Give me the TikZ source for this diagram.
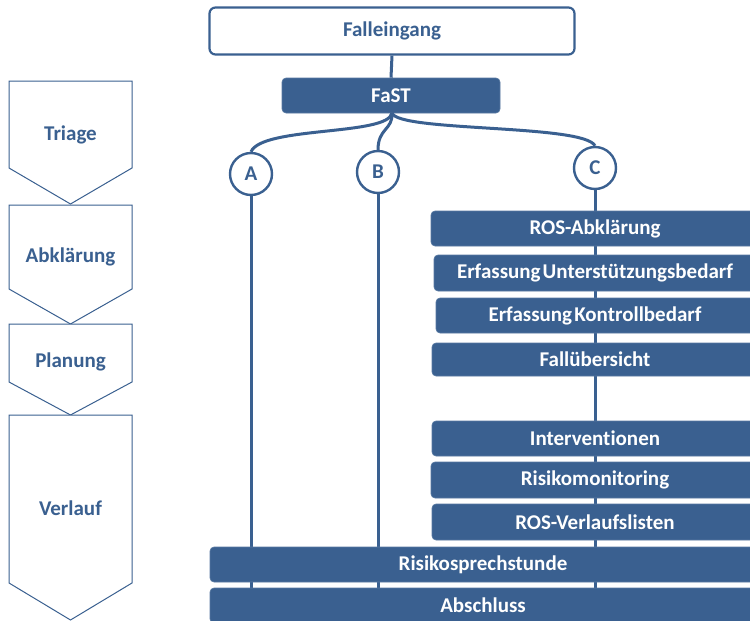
\documentclass[tikz,border=0pt]{standalone}
\usepackage{fontspec}
\setmainfont{Carlito}[Ligatures=NoCommon]
\definecolor{navy}{RGB}{58,96,144}
\begin{document}
\begin{tikzpicture}[x=1pt,y=-1pt,
  lbl/.style={font=\bfseries\fontsize{21}{21}\selectfont},
  bar/.style={lbl, fill=navy, draw=navy!85!white, line width=0.6pt, rounded corners=4pt,
    text=white, inner sep=0pt, minimum height=35pt},
  phase/.style={draw=navy, line width=1pt, fill=white},
  phaselbl/.style={lbl, text=navy},
  link/.style={draw=navy, line width=3pt},
  ring/.style={lbl, circle, draw=navy, line width=2.4pt, fill=white, text=navy,
    minimum size=42pt, inner sep=0pt}]
\clip (0,0) rectangle (750,621);

% phase chevrons on the left
\draw[phase] (9,81) -- (132,81) -- (132,168) -- (70.5,204) -- (9,168) -- cycle;
\draw[phase] (9,205) -- (132,205) -- (132,289) -- (70.5,324) -- (9,289) -- cycle;
\draw[phase] (9,324) -- (132,324) -- (132,382) -- (70.5,415) -- (9,382) -- cycle;
\draw[phase] (9,415) -- (132,415) -- (132,583) -- (70.5,620) -- (9,583) -- cycle;
\node[phaselbl] (triage) at (70.5,135) {Triage};
\node[phaselbl] (abkl) at (70.5,257) {Abklärung};
\node[phaselbl] (plan) at (70.5,362) {Planung};
\node[phaselbl] (verl) at (70.5,508) {Verlauf};

% entry and triage
\node[lbl, draw=navy, line width=2.2pt, rounded corners=6pt, fill=white, text=navy,
  minimum width=365pt, minimum height=47pt, inner sep=0pt] (eing) at (392,31) {Falleingang};
\node[bar, minimum width=218pt] (fast) at (391,95.5) {FaST};
\draw[link] (eing.south) -- (fast.north);

% the three tracks
\node[ring] (a) at (251,174) {A};
\node[ring] (b) at (378,172) {B};
\node[ring] (c) at (595,168) {C};
\coordinate (fb) at (392,113);
\draw[link] (fb) .. controls (388,136) and (262,126) .. (a.north);
\draw[link] (fb) .. controls (393,130) and (378,128) .. (b.north);
\draw[link] (fb) .. controls (398,132) and (584,124) .. (c.north);

% bottom end points of the track lines
\coordinate (aend) at (251,610);
\coordinate (bend) at (378,610);
\coordinate (cend) at (595,610);
\draw[link] (a.south) -- (aend);
\draw[link] (b.south) -- (bend);
\draw[link] (c.south) -- (cend);

% steps of track C
\node[bar, minimum width=328pt] (ros) at (595,228.5) {ROS-Abklärung};
\node[bar, minimum width=322pt, minimum height=36pt] (unt) at (595,273) {Erfassung\hspace{0.1em}Unterstützungsbedarf};
\node[bar, minimum width=318pt] (kon) at (595,315.5) {Erfassung\hspace{0.1em}Kontrollbedarf};
\node[bar, minimum width=326pt, minimum height=33pt] (fall) at (595,359.5) {Fallübersicht};
\node[bar, minimum width=326pt] (int) at (595,438.5) {Interventionen};
\node[bar, minimum width=328pt, minimum height=36pt] (mon) at (595,480) {Risikomonitoring};
\node[bar, minimum width=326pt, minimum height=36pt] (vl) at (595,522) {ROS-Verlaufslisten};

% shared steps
\node[bar, minimum width=546pt] (sprech) at (483,564.5) {Risikosprechstunde};
\node[bar, minimum width=546pt] (absch) at (483,605.5) {Abschluss};
\end{tikzpicture}
\end{document}
